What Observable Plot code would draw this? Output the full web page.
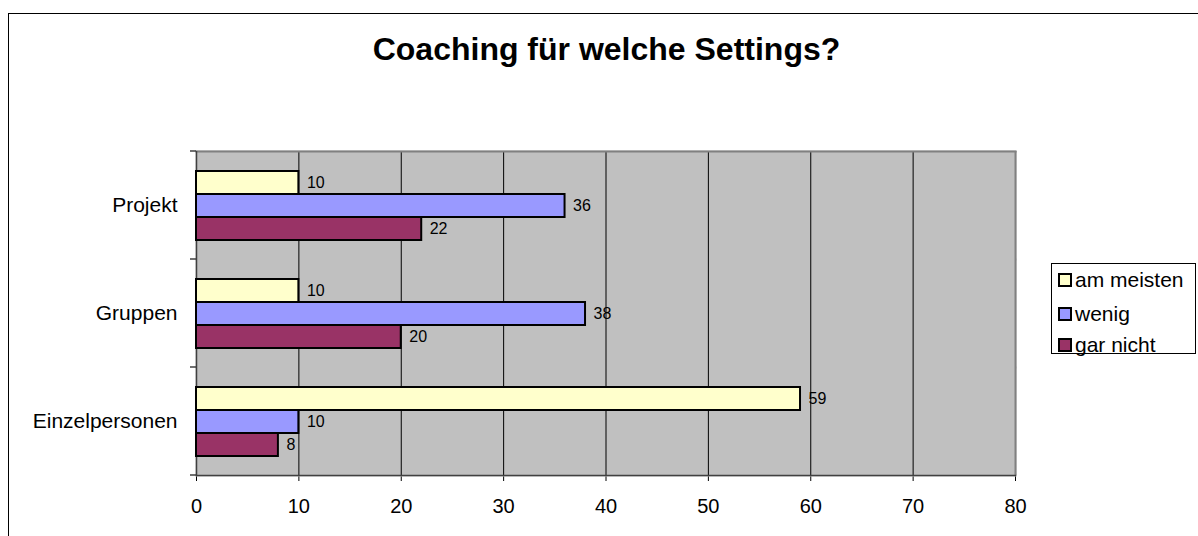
<!DOCTYPE html>
<html><head><meta charset="utf-8">
<script src="https://cdn.jsdelivr.net/npm/d3@7"></script>
<script src="https://cdn.jsdelivr.net/npm/@observablehq/plot@0.6"></script>
<style>
html,body{margin:0;padding:0;background:#fff;overflow:hidden;}
#wrap{position:relative;width:1198px;height:536px;overflow:hidden;font-family:"Liberation Sans",Arial,sans-serif;}
#border{position:absolute;left:8px;top:13px;width:1400px;height:800px;border:1.5px solid #000;}
#title{position:absolute;left:0;width:1213px;top:31px;text-align:center;font-weight:bold;font-size:32px;line-height:37px;}
#chart{position:absolute;left:0;top:0;}
#legend{position:absolute;left:1051px;top:263px;width:145px;height:91px;box-sizing:border-box;border:1px solid #000;background:#fff;}
.item{position:absolute;left:6px;height:24px;display:flex;align-items:center;font-size:21px;white-space:nowrap;}
.sw{width:10px;height:10px;border:2px solid #000;margin-right:3px;}
</style></head>
<body>
<div id="wrap">
  <div id="border"></div>
  <div id="title">Coaching für welche Settings?</div>
  <div id="chart"></div>
  <div id="legend"></div>
</div>
<script>
const categories = ["Projekt", "Gruppen", "Einzelpersonen"];
const series = ["am meisten", "wenig", "gar nicht"];
const amMeisten = [10, 10, 59];
const wenig = [36, 38, 10];
const garNicht = [22, 20, 8];
const seriesColors = ["#ffffcc", "#9999ff", "#993366"];
const xTicks = [0, 10, 20, 30, 40, 50, 60, 70, 80];
const gridTicks = [10, 20, 30, 40, 50, 60, 70];

const values = [amMeisten, wenig, garNicht];
const data = categories.flatMap((c, i) => series.map((s, j) => ({category: c, series: s, value: values[j][i]})));

const plot = Plot.plot({
  width: 1198, height: 536,
  marginLeft: 196, marginRight: 183, marginTop: 150, marginBottom: 61,
  style: {fontFamily: '"Liberation Sans", Arial, sans-serif', fontSize: "20px", background: "transparent", color: "#000", overflow: "visible"},
  x: {domain: [0, 80], ticks: xTicks, tickSize: 6, tickPadding: 17, label: null},
  y: {domain: series, paddingInner: 0, paddingOuter: 0.78, axis: null},
  fy: {domain: categories, padding: 0, label: null, tickSize: 0, tickPadding: 19, axis: "left", fontSize: 21},
  color: {domain: series, range: seriesColors},
  marks: [
    Plot.frame({fill: "#c0c0c0", stroke: "#c0c0c0", strokeWidth: 2}),
    Plot.text(data, {fy: "category", y: "series", x: "value", text: d => String(d.value), dx: 8, textAnchor: "start", fontSize: 16, fill: "#000"}),
    Plot.ruleX(gridTicks, {stroke: "#000", strokeWidth: 1}),
    Plot.ruleX([80], {stroke: "#808080", strokeWidth: 2}),
    Plot.frame({anchor: "top", facetAnchor: "top", stroke: "#808080", strokeWidth: 2}),
    Plot.frame({anchor: "bottom", facetAnchor: "bottom", stroke: "#404040", strokeWidth: 1.5}),
    Plot.ruleX([0], {stroke: "#404040", strokeWidth: 1.5}),
    Plot.barX(data, {fy: "category", y: "series", x: "value", fill: "series", stroke: "#000", strokeWidth: 2})
  ]
});
document.getElementById("chart").appendChild(plot);

// category labels slightly larger than tick labels
d3.select(plot).selectAll('[aria-label="fy-axis tick label"] text, [aria-label="fy-axis tick label"]').style("font-size", "21px");

// category boundary tick marks on the left axis
try {
  const svg = d3.select(plot.tagName.toLowerCase() === "svg" ? plot : plot.querySelector("svg"));
  const fy = plot.scale("fy"), xs = plot.scale("x");
  const x0 = xs.apply(0);
  const bounds = categories.map(c => fy.apply(c));
  bounds.push(fy.apply(categories[categories.length - 1]) + fy.bandwidth);
  svg.append("g").selectAll("line").data(bounds).join("line")
    .attr("x1", x0 - 6).attr("x2", x0).attr("y1", d => d).attr("y2", d => d)
    .attr("stroke", "#404040").attr("stroke-width", 1.5);
} catch (e) { console.error(e); }

// legend
const legend = d3.select("#legend");
const tops = [4, 38, 69];
series.forEach((s, i) => {
  const it = legend.append("div").attr("class", "item").style("top", tops[i] + "px");
  it.append("div").attr("class", "sw").style("background", seriesColors[i]);
  it.append("span").text(s);
});
</script>
</body></html>
